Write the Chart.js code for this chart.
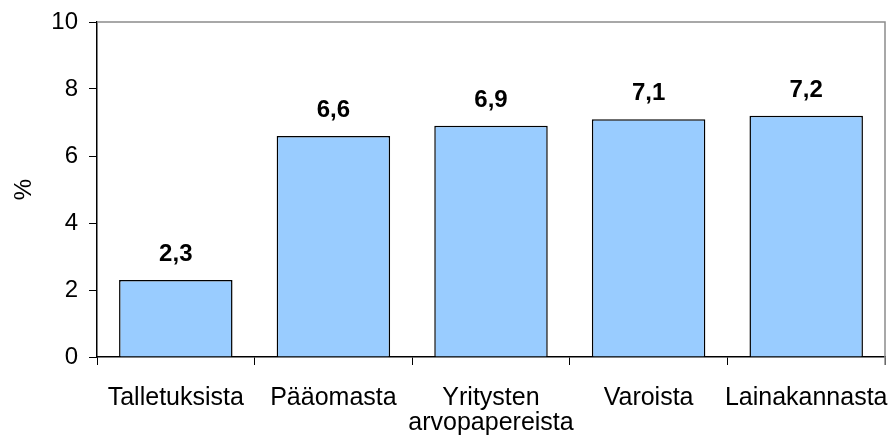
<!DOCTYPE html>
<html>
<head>
<meta charset="utf-8">
<script src="https://cdn.jsdelivr.net/npm/chart.js@4"></script>
<style>
  html, body { margin: 0; padding: 0; background: #fff; }
  #wrap { width: 894px; height: 439px; }
</style>
</head>
<body>
<div id="wrap"><canvas id="yieldChart" width="894" height="439"></canvas></div>
<script>
const categories = ['Talletuksista', 'Pääomasta', ['Yritysten', 'arvopapereista'], 'Varoista', 'Lainakannasta'];
const values = [2.3, 6.6, 6.9, 7.1, 7.2];
const yTicks = [0, 2, 4, 6, 8, 10];

Chart.defaults.font.family = '"Liberation Sans", Arial, sans-serif';
Chart.defaults.color = '#000';

// value labels above the bars, with a decimal comma
const barLabels = {
    id: 'barLabels',
    afterDatasetsDraw(chart) {
        const ctx = chart.ctx;
        const meta = chart.getDatasetMeta(0);
        ctx.save();
        ctx.font = 'bold 24px "Liberation Sans", Arial, sans-serif';
        ctx.fillStyle = '#000';
        ctx.textAlign = 'center';
        ctx.textBaseline = 'alphabetic';
        meta.data.forEach((bar, i) => {
            ctx.fillText(values[i].toFixed(1).replace('.', ','), bar.x, bar.y - 19);
        });
        ctx.restore();
    }
};

// grey frame on the top and right of the plot area
const frame = {
    id: 'frame',
    beforeDatasetsDraw(chart) {
        const a = chart.chartArea;
        const ctx = chart.ctx;
        ctx.save();
        ctx.strokeStyle = '#8c8c8c';
        ctx.lineWidth = 1.5;
        ctx.beginPath();
        ctx.moveTo(a.left, a.top);
        ctx.lineTo(a.right, a.top);
        ctx.lineTo(a.right, a.bottom + 8);
        ctx.stroke();
        ctx.restore();
    }
};

const ctx = document.getElementById('yieldChart').getContext('2d');
const myChart = new Chart(ctx, {
    type: 'bar',
    data: {
        labels: categories,
        datasets: [{
            data: values,
            backgroundColor: '#99CCFF',
            borderColor: '#000',
            borderWidth: 1.5,
            categoryPercentage: 1,
            barPercentage: 0.72
        }]
    },
    options: {
        responsive: false,
        animation: false,
        layout: { padding: { top: 22, right: 9, left: 0, bottom: 0 } },
        plugins: {
            legend: { display: false },
            tooltip: { enabled: false }
        },
        scales: {
            x: {
                offset: true,
                grid: { offset: true, drawOnChartArea: false, tickLength: 8, color: '#000', lineWidth: 1 },
                border: { color: '#000', width: 1.5 },
                ticks: { font: { size: 25, lineHeight: 1.02 }, padding: 20, maxRotation: 0, autoSkip: false },
                afterFit(scale) {
                    scale.height = 82;
                    scale.paddingLeft = 0;
                    scale.paddingRight = 0;
                }
            },
            y: {
                min: 0,
                max: 10,
                afterBuildTicks(scale) { scale.ticks = yTicks.map(v => ({ value: v })); },
                grid: { drawOnChartArea: false, tickLength: 8, color: '#000', lineWidth: 1 },
                border: { color: '#000', width: 1.5 },
                ticks: { font: { size: 24 }, padding: 11 },
                title: { display: true, text: '%', font: { size: 24 }, padding: { top: 10, bottom: 0 } },
                afterFit(scale) {
                    scale.width = 97;
                    scale.paddingTop = 0;
                    scale.paddingBottom = 0;
                }
            }
        }
    },
    plugins: [frame, barLabels]
});
</script>
</body>
</html>
